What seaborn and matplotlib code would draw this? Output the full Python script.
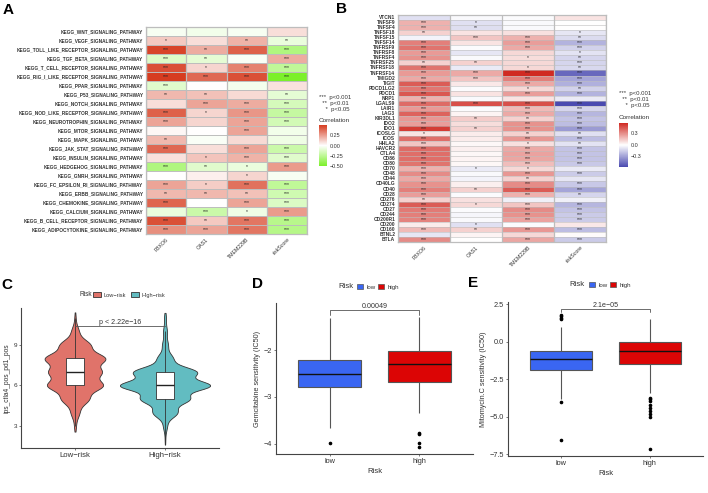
import numpy as np
import pandas as pd
import matplotlib
matplotlib.use("Agg")
import matplotlib.pyplot as plt
from matplotlib.colors import LinearSegmentedColormap, TwoSlopeNorm
from matplotlib.patches import Patch
import seaborn as sns

W, H = 708, 493

genes = ["FBXO6", "OAS1", "TMEM229B", "riskScore"]

# Panel A
kegg_pathways = ["WNT", "VEGF", "TOLL_LIKE_RECEPTOR", "TGF_BETA", "T_CELL_RECEPTOR", "RIG_I_LIKE_RECEPTOR",
                 "PPAR", "P53", "NOTCH", "NOD_LIKE_RECEPTOR", "NEUROTROPHIN", "MTOR", "MAPK", "JAK_STAT",
                 "INSULIN", "HEDGEHOG", "GNRH", "FC_EPSILON_RI", "ERBB", "CHEMOKINE", "CALCIUM",
                 "B_CELL_RECEPTOR", "ADIPOCYTOKINE"]
a_fbxo6 = [-0.03, 0.13, 0.45, -0.13, 0.42, 0.47, -0.12, 0.17, 0.08, 0.38, 0.22, 0.02, 0.17, 0.36, 0.07, -0.30, 0.00, 0.22, 0.17, 0.37, -0.08, 0.42, 0.27]
a_oas1 = [-0.05, 0.08, 0.20, -0.10, 0.10, 0.36, 0.00, 0.15, 0.22, 0.10, 0.10, 0.00, -0.02, 0.08, 0.14, -0.12, 0.04, 0.12, 0.17, 0.00, -0.20, 0.13, 0.22]
a_tmem = [-0.03, 0.18, 0.38, -0.02, 0.30, 0.42, -0.04, 0.09, 0.20, 0.25, 0.22, 0.22, 0.09, 0.22, 0.18, -0.08, 0.10, 0.34, 0.15, 0.22, -0.06, 0.33, 0.33]
a_risk = [0.08, -0.08, -0.30, 0.20, -0.24, -0.50, 0.07, -0.10, -0.16, -0.22, -0.17, -0.05, -0.06, -0.20, -0.12, 0.24, -0.03, -0.24, -0.18, -0.14, 0.24, -0.27, -0.28]
a_fbxo6_sig = [0, 1, 3, 3, 3, 3, 3, 2, 0, 3, 3, 0, 2, 3, 0, 3, 0, 3, 2, 3, 0, 3, 3]
a_oas1_sig = [0, 0, 2, 2, 1, 3, 0, 2, 3, 1, 0, 0, 0, 0, 1, 2, 0, 1, 2, 0, 3, 2, 3]
a_tmem_sig = [0, 2, 3, 0, 3, 3, 0, 0, 3, 3, 3, 3, 0, 3, 3, 1, 1, 3, 2, 3, 1, 3, 3]
a_risk_sig = [0, 2, 3, 3, 3, 3, 0, 2, 3, 3, 3, 0, 0, 3, 3, 3, 0, 3, 3, 3, 3, 3, 3]

# Panel B
checkpoints = ["VTCN1", "TNFSF9", "TNFSF4", "TNFSF18", "TNFSF15", "TNFSF14", "TNFRSF9", "TNFRSF8", "TNFRSF4",
               "TNFRSF25", "TNFRSF18", "TNFRSF14", "TMIGD2", "TIGIT", "PDCD1LG2", "PDCD1", "NRP1", "LGALS9",
               "LAIR1", "LAG3", "KIR3DL1", "IDO2", "IDO1", "ICOSLG", "ICOS", "HHLA2", "HAVCR2", "CTLA4", "CD86",
               "CD80", "CD70", "CD48", "CD44", "CD40LG", "CD40", "CD28", "CD276", "CD274", "CD27", "CD244",
               "CD200R1", "CD200", "CD160", "BTNL2", "BTLA"]
b_fbxo6 = [-0.10, 0.20, 0.20, 0.12, -0.04, 0.33, 0.36, 0.26, 0.28, 0.12, 0.36, 0.26, 0.22, 0.42, 0.35, 0.43, 0.20, 0.38, 0.26, 0.40, 0.27, 0.25, 0.50, 0.07, 0.37, 0.15, 0.38, 0.37, 0.37, 0.36, 0.20, 0.30, 0.22, 0.28, 0.33, 0.25, 0.12, 0.42, 0.34, 0.33, 0.32, 0.05, 0.18, -0.08, 0.30]
b_oas1 = [-0.02, -0.10, -0.11, 0.07, 0.15, 0.07, -0.01, -0.08, -0.02, 0.12, -0.07, 0.22, 0.15, 0.06, -0.01, 0.07, -0.02, 0.45, -0.01, 0.03, 0.13, 0.09, 0.12, 0.05, 0.05, 0.02, 0.04, 0.02, 0.03, 0.02, -0.07, -0.02, -0.04, 0.04, 0.12, -0.01, 0.08, 0.10, -0.01, -0.03, -0.02, -0.10, 0.12, 0.03, 0.00]
b_tmem = [-0.01, -0.02, -0.02, 0.08, 0.20, 0.25, 0.22, 0.10, 0.09, 0.10, 0.10, 0.55, 0.33, 0.22, 0.10, 0.25, 0.07, 0.45, 0.18, 0.22, 0.12, 0.28, 0.28, 0.12, 0.27, 0.08, 0.22, 0.24, 0.23, 0.17, 0.10, 0.27, 0.12, 0.30, 0.42, 0.20, -0.05, 0.15, 0.30, 0.28, 0.24, -0.01, 0.27, 0.10, 0.23]
b_risk = [0.07, 0.00, 0.00, -0.08, -0.12, -0.25, -0.15, -0.09, -0.14, -0.14, -0.13, -0.50, -0.30, -0.26, -0.15, -0.25, -0.07, -0.60, -0.14, -0.24, -0.20, -0.22, -0.33, -0.10, -0.22, -0.09, -0.20, -0.20, -0.20, -0.18, -0.07, -0.17, -0.08, -0.18, -0.30, -0.14, -0.05, -0.24, -0.20, -0.17, -0.17, 0.06, -0.22, 0.01, -0.17]
b_fbxo6_sig = [0, 3, 3, 2, 0, 3, 3, 3, 3, 2, 3, 3, 3, 3, 3, 3, 3, 3, 3, 3, 3, 3, 3, 1, 3, 3, 3, 3, 3, 3, 3, 3, 3, 3, 3, 3, 2, 3, 3, 3, 3, 0, 3, 0, 3]
b_oas1_sig = [0, 1, 2, 0, 3, 0, 0, 0, 0, 2, 0, 3, 3, 0, 0, 0, 0, 3, 0, 0, 2, 0, 2, 0, 0, 0, 0, 0, 0, 0, 1, 0, 0, 0, 2, 0, 0, 1, 0, 0, 0, 1, 2, 0, 0]
b_tmem_sig = [0, 0, 0, 0, 3, 3, 3, 0, 1, 0, 1, 3, 3, 3, 1, 3, 0, 3, 3, 3, 2, 3, 3, 2, 3, 1, 3, 3, 3, 3, 1, 3, 2, 3, 3, 3, 0, 3, 3, 3, 3, 0, 3, 0, 3]
b_risk_sig = [0, 0, 0, 1, 2, 3, 3, 1, 2, 3, 2, 3, 3, 3, 2, 3, 0, 3, 3, 3, 3, 3, 3, 2, 3, 2, 3, 3, 3, 3, 0, 3, 0, 3, 3, 2, 0, 3, 3, 3, 3, 0, 3, 0, 3]

# Panel C, ips score counts per integer value
ips_values = [2, 3, 4, 5, 6, 7, 8, 9, 10, 11]
ips_low_counts = [0, 3, 14, 45, 92, 85, 100, 50, 12, 2]
ips_high_counts = [1, 6, 38, 75, 140, 98, 24, 9, 6, 3]

# Panel D, Gemcitabine IC50
gem_low = [-3.99, -3.66, -2.79, -2.7, -2.51, -2.35, -2.2, -1.8, -1.32]
gem_high = [-4.08, -3.98, -3.79, -3.77, -3.35, -2.67, -2.6, -2.55, -2.48, -2.4, -2.3,
            -2.25, -2.2, -2.15, -2.08, -2.02, -1.9, -1.75, -1.6, -1.45, -1.28]

# Panel E, Mitomycin.C IC50
mit_low = [-6.53, -4.02, -3.8, -3.0, -2.4, -1.89, -1.75, -1.6, -1.45, -1.3, -1.16,
           -1.05, -0.95, -0.85, -0.72, -0.6, 0.98, 1.5, 1.6, 1.7, 1.8]
mit_high = [-7.13, -5.0, -4.8, -4.6, -4.4, -4.2, -3.95, -3.85, -3.76, -3.42, -1.47,
            -1.4, -1.3, -1.2, -1.1, -1.0, -0.95, -0.85, -0.75, -0.68, -0.6,
            -0.55, -0.5, -0.45, -0.4, -0.35, -0.3, -0.2, -0.15, -0.1, -0.04,
            0.05, 0.15, 0.25, 0.35, 0.5, 0.65, 0.8, 1.0, 1.25, 1.53]

sns.set_theme(style="ticks")
plt.rcParams["font.family"] = ["Liberation Sans", "DejaVu Sans"]
TXT = "#333333"

fig = plt.figure(figsize=(W / 100, H / 100), dpi=100)


def px_axes(left, top, right, bottom):
    return fig.add_axes([left / W, 1 - bottom / H, (right - left) / W, (bottom - top) / H])


def fig_text(x, y, s, **kw):
    kw.setdefault("va", "center")
    kw.setdefault("color", TXT)
    fig.text(x / W, 1 - y / H, s, **kw)


def corr_heatmap(box, cbox, cols, sigs, rows, cmap, vmin, vmax, ticks, ticklabels, ylab_kw, lw):
    vals = pd.DataFrame(dict(zip(genes, cols)), index=rows)
    stars = np.array([["*" * s for s in col] for col in sigs]).T
    ax = px_axes(*box)
    cax = px_axes(*cbox)
    # cell borders go on afterwards, the mesh edges snap badly on 5 px rows
    sns.heatmap(vals, ax=ax, cbar_ax=cax, cmap=cmap, norm=TwoSlopeNorm(vmin=vmin, vcenter=0, vmax=vmax),
                annot=stars, fmt="", annot_kws={"fontsize": 3.6, "color": "#222222"},
                linewidths=0, xticklabels=True, yticklabels=True, cbar_kws={"ticks": ticks})
    ax.hlines(range(len(rows) + 1), 0, len(genes), color="#bdbdbd", lw=lw, zorder=2)
    ax.vlines(range(len(genes) + 1), 0, len(rows), color="#bdbdbd", lw=0.9, zorder=2)
    ax.set_ylabel("")
    ax.tick_params(axis="both", length=0, pad=2)
    ax.set_yticklabels(ax.get_yticklabels(), rotation=0, color=TXT, **ylab_kw)
    ax.set_xticklabels(genes, rotation=45, ha="right", rotation_mode="anchor", fontsize=3.8, color=TXT)
    for s in ax.spines.values():
        s.set_visible(True)
        s.set_color("#bdbdbd")
        s.set_linewidth(0.9)
    cax.set_yticklabels(ticklabels, fontsize=3.9, color=TXT)
    cax.tick_params(length=0, pad=2)
    for s in cax.spines.values():
        s.set_visible(False)
    return ax


def sig_key(x, y_rows, y_title):
    for y, s in zip(y_rows, ["***  p<0.001", "  **  p<0.01", "    *  p<0.05"]):
        fig_text(x, y, s, fontsize=4.3)
    fig_text(x, y_title, "Correlation", fontsize=4.6)


cmap_a = LinearSegmentedColormap.from_list("a", ["#7cf02a", "#ffffff", "#d63c20"])
cmap_b = LinearSegmentedColormap.from_list("b", ["#4a4ab0", "#ffffff", "#d02a22"])

corr_heatmap((146, 27, 307, 234), (319, 125, 327, 166),
             [a_fbxo6, a_oas1, a_tmem, a_risk], [a_fbxo6_sig, a_oas1_sig, a_tmem_sig, a_risk_sig],
             [f"KEGG_{p}_SIGNALING_PATHWAY" for p in kegg_pathways],
             cmap_a, -0.5, 0.47, [-0.5, -0.25, 0, 0.25], ["\u22120.50", "\u22120.25", "0.00", "0.25"],
             {"fontsize": 3.45, "fontweight": "bold"}, 0.7)
sig_key(319, [98, 103.7, 109.3], 120.7)

corr_heatmap((398, 15, 606, 242), (619, 123, 628, 167),
             [b_fbxo6, b_oas1, b_tmem, b_risk], [b_fbxo6_sig, b_oas1_sig, b_tmem_sig, b_risk_sig],
             checkpoints, cmap_b, -0.6, 0.55, [-0.3, 0, 0.3], ["\u22120.3", "0.0", "0.3"],
             {"fontsize": 3.5, "fontweight": "bold"}, 0.4)
sig_key(619, [93, 99.3, 105.3], 117.7)


def classic_axes(ax, xlim, ylim, yticks):
    ax.set_xlim(*xlim)
    ax.set_ylim(*ylim)
    ax.set_yticks(yticks)
    sns.despine(ax=ax)
    for side in ("left", "bottom"):
        ax.spines[side].set_color("#444444")
        ax.spines[side].set_linewidth(0.8)
    ax.tick_params(axis="both", length=1.5, width=0.5, color="#444444", pad=1.5, labelsize=5.3, labelcolor=TXT)


def bracket(ax, x0, x1, y, tip, label, pad):
    ax.plot([x0, x0, x1, x1], [tip, y, y, tip], color="#555555", lw=0.6)
    ax.text((x0 + x1) / 2, y + pad, label, ha="center", va="bottom", fontsize=5.1, color=TXT)


def risk_legend(x_title, y, x_center, handles, labels, fs, title_fs=5.6, h_len=1.0, spacing=0.5):
    fig_text(x_title, y, "Risk", fontsize=title_fs)
    fig.legend(handles, labels, ncol=2, loc="center", bbox_to_anchor=(x_center / W, 1 - y / H),
               frameon=False, fontsize=fs, handlelength=h_len, handleheight=0.9,
               handletextpad=0.5, columnspacing=spacing, borderpad=0, labelcolor=TXT)


# Panel C
low_hi = ["Low\u2212risk", "High\u2212risk"]
ips = pd.DataFrame({
    "Risk": [low_hi[0]] * sum(ips_low_counts) + [low_hi[1]] * sum(ips_high_counts),
    "score": np.r_[np.repeat(ips_values, ips_low_counts), np.repeat(ips_values, ips_high_counts)],
})
ips_pal = {low_hi[0]: "#e0736a", low_hi[1]: "#62bcc1"}
ax_c = px_axes(21, 308, 219, 448)
sns.violinplot(data=ips, x="Risk", y="score", hue="Risk", order=low_hi, hue_order=low_hi, palette=ips_pal,
               inner=None, density_norm="area", common_norm=True, width=1.0, bw_method=0.28, cut=1.0, saturation=1,
               linecolor="#333333", linewidth=0.6, legend=False, ax=ax_c)
sns.boxplot(data=ips, x="Risk", y="score", order=low_hi, color="white", width=0.2, saturation=1,
            showfliers=False, showcaps=False, linecolor="#333333", linewidth=0.6,
            medianprops={"linewidth": 1.0, "color": "#222222"}, ax=ax_c)
classic_axes(ax_c, (-0.6, 1.6), (1.37, 11.74), [3, 6, 9])
ax_c.set_xlabel("")
ax_c.set_ylabel("ips_ctla4_pos_pd1_pos", fontsize=4.8, color=TXT, labelpad=2)
ax_c.tick_params(axis="y", labelsize=4.6)
ax_c.tick_params(axis="x", labelsize=5.6)
bracket(ax_c, 0, 1, 10.38, 10.38, "p < 2.22e\u221216", 0.02)
risk_legend(79, 295, 129, [Patch(fc=ips_pal[k], ec="#333333", lw=0.6) for k in low_hi], low_hi, 4.1,
            title_fs=4.7, h_len=1.4, spacing=0.8)


def ic50_panel(box, low, high, ylim, yticks, ylabel, p_label, brk):
    df = pd.DataFrame({"Risk": ["low"] * len(low) + ["high"] * len(high), "ic50": low + high})
    pal = {"low": "#3a66f2", "high": "#dc0505"}
    ax = px_axes(*box)
    sns.boxplot(data=df, x="Risk", y="ic50", hue="Risk", order=["low", "high"], hue_order=["low", "high"],
                palette=pal, width=0.7, saturation=1, dodge=False, linecolor="#555555", linewidth=0.8,
                showcaps=False, fliersize=1.6,
                flierprops={"marker": "o", "markerfacecolor": "black", "markeredgecolor": "black"},
                medianprops={"color": "#111111", "linewidth": 1.0}, legend=False, ax=ax)
    classic_axes(ax, (-0.6, 1.6), ylim, yticks)
    ax.set_xlabel("Risk", fontsize=5.6, color=TXT, labelpad=2)
    ax.set_ylabel(ylabel, fontsize=5.2, color=TXT, labelpad=2)
    bracket(ax, 0, 1, brk[0], brk[1], p_label, brk[2])
    return pal


pal_ic = ic50_panel((276, 303, 473, 454), gem_low, gem_high, (-4.22, -0.99), [-4, -3, -2],
                    "Gemcitabine sensitivity (IC50)", "0.00049", (-1.136, -1.24, 0.0))
risk_legend(338, 287, 378, [Patch(fc=pal_ic[k], ec="#555555", lw=0.5) for k in pal_ic], list(pal_ic), 4.4)

pal_ic = ic50_panel((508, 302, 703, 456), mit_low, mit_high, (-7.63, 2.65), [-7.5, -5, -2.5, 0, 2.5],
                    "Mitomycin.C sensitivity (IC50)", "2.1e\u221205", (2.2, 1.95, 0.0))
risk_legend(569, 285, 610, [Patch(fc=pal_ic[k], ec="#555555", lw=0.5) for k in pal_ic], list(pal_ic), 4.4)

# panel letters
for x, y, s in [(3, 10, "A"), (336, 9, "B"), (1, 285, "C"), (252, 284, "D"), (468, 283, "E")]:
    fig_text(x, y, s, fontsize=11, fontweight="bold", color="black")

fig.savefig("out.png", dpi=100)
